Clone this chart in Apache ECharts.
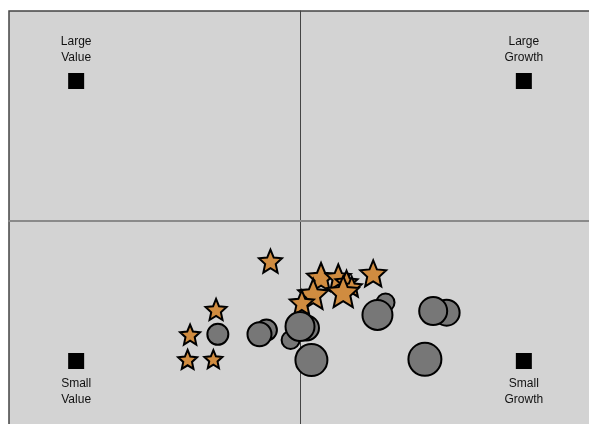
<!DOCTYPE html>
<html>
<head>
<meta charset="utf-8">
<script src="https://cdn.jsdelivr.net/npm/echarts@6/dist/echarts.min.js"></script>
<style>
html,body{margin:0;padding:0;background:#fff;}
#chart{width:589px;height:424px;}
</style>
</head>
<body>
<div id="chart"></div>
<script>
// Style-box corner anchors
const cornerNames = ['Large\nValue', 'Large\nGrowth', 'Small\nValue', 'Small\nGrowth'];
const cornerX = [-100, 100, -100, 100];
const cornerY = [100, 100, -100, -100];

// Circles (drawn back to front)
const circleX = [-15.0, -18.1, -36.7, -4.2, 2.9, 0.0, 5.1, 38.2, 34.6, 65.5, 59.5, 55.8];
const circleY = [-77.9, -80.9, -80.9, -85.0, -76.4, -75.4, -99.3, -58.2, -67.1, -65.5, -64.3, -98.8];
const circleSize = [21, 24, 21, 18, 25, 29, 32, 18, 30, 26, 28, 33];

// Stars
const starX = [-13.2, -37.5, -49.1, -50.2, -38.7, 9.4, 17.1, 20.8, 23.1, 32.7, 5.9, 0.8, 19.3];
const starY = [-28.6, -63.2, -81.1, -98.9, -98.6, -40.0, -40.0, -43.4, -46.9, -37.4, -52.1, -58.2, -50.5];
const starSize = [23, 21, 20, 19, 18, 28, 25, 22, 20, 26, 30, 24, 31];

function starPath() {
  let d = '';
  for (let i = 0; i < 10; i++) {
    const a = (-90 + i * 36) * Math.PI / 180;
    const r = i % 2 === 0 ? 100 : 46;
    d += (i === 0 ? 'M' : 'L') + (r * Math.cos(a)).toFixed(2) + ',' + (r * Math.sin(a)).toFixed(2) + ' ';
  }
  return 'path://' + d + 'Z';
}
const STAR = starPath();

const chart = echarts.init(document.getElementById('chart'), null, {renderer: 'canvas'});

const cornerData = cornerNames.map((n, i) => ({
  value: [cornerX[i], cornerY[i]],
  name: n,
  label: {position: cornerY[i] > 0 ? 'top' : 'bottom', distance: cornerY[i] > 0 ? 7 : 7}
}));

chart.setOption({
  animation: false,
  backgroundColor: '#ffffff',
  grid: {
    left: 9, top: 11, width: 582, height: 420,
    outerBoundsMode: 'none',
    show: true, backgroundColor: '#d3d3d3',
    borderColor: '#444444', borderWidth: 1.5,
    containLabel: false
  },
  xAxis: {
    type: 'value', min: -130, max: 130,
    axisLine: {show: true, onZero: true, lineStyle: {color: '#8a8a8a', width: 2}},
    axisTick: {show: false}, axisLabel: {show: false}, splitLine: {show: false}
  },
  yAxis: {
    type: 'value', min: -150, max: 150,
    axisLine: {show: true, onZero: true, lineStyle: {color: '#444444', width: 1}},
    axisTick: {show: false}, axisLabel: {show: false}, splitLine: {show: false}
  },
  series: [
    {
      type: 'scatter',
      symbol: 'rect',
      symbolSize: 16,
      itemStyle: {color: '#000000', opacity: 1},
      label: {
        show: true,
        formatter: p => p.name,
        fontFamily: 'Arial, "Liberation Sans", sans-serif',
        fontSize: 12,
        lineHeight: 16,
        color: '#111111',
        align: 'center'
      },
      data: cornerData,
      z: 3
    },
    {
      type: 'scatter',
      symbol: STAR,
      itemStyle: {color: '#D08C40', borderColor: '#000000', borderWidth: 2, opacity: 1},
      data: starX.map((x, i) => ({value: [x, starY[i]], symbolSize: starSize[i]})),
      z: 4
    },
    {
      type: 'scatter',
      symbol: 'circle',
      itemStyle: {color: '#777777', borderColor: '#000000', borderWidth: 2, opacity: 1},
      data: circleX.map((x, i) => ({value: [x, circleY[i]], symbolSize: circleSize[i]})),
      z: 5
    }
  ]
});
</script>
</body>
</html>
